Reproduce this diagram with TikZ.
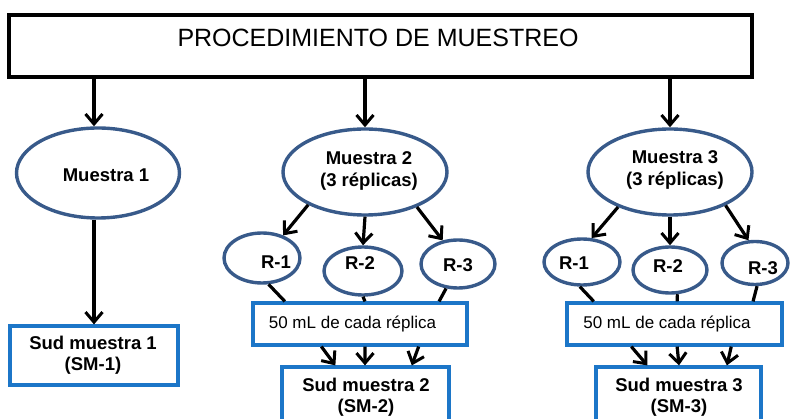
\documentclass[tikz,border=0pt]{standalone}
\usepackage{fontspec}
\setmainfont{Liberation Sans}
\usetikzlibrary{arrows.meta,calc,shapes.geometric}
\definecolor{ellblue}{HTML}{385A8A}
\definecolor{boxblue}{HTML}{1C76C8}
\begin{document}
\begin{tikzpicture}[x=1pt,y=-1pt,
  ell/.style={ellipse,draw=ellblue,line width=3.4pt,inner sep=0pt,fill=white},
  bx/.style={rectangle,draw=boxblue,line width=3.2pt,inner sep=0pt,fill=white},
  ttl/.style={rectangle,draw=black,line width=3.4pt,inner sep=0pt},
  bt/.style={font=\fontsize{18.5}{21.5}\selectfont\bfseries,align=center,inner sep=0pt},
  rt/.style={font=\fontsize{17}{20}\selectfont,inner sep=0pt},
  arr/.style={line width=3.2pt,-{Straight Barb[length=10pt,width=17pt,line width=3pt]}},
  ln/.style={line width=3.2pt}]
\useasboundingbox (0,0) rectangle (790,419);
\clip (0,0) rectangle (790,419);
% title
\node[ttl,minimum width=743pt,minimum height=62pt] (title) at (380.5,46) {};
\node[font=\fontsize{25}{28}\selectfont,inner sep=0pt] (ttext) at (378,38) {PROCEDIMIENTO DE MUESTREO};
% main ellipses
\node[ell,minimum width=163pt,minimum height=90pt] (m1) at (98,173) {};
\node[ell,minimum width=164pt,minimum height=86pt] (m2) at (365,172) {};
\node[ell,minimum width=164pt,minimum height=86pt] (m3) at (670,172) {};
\node[bt] (m1t) at (106,175) {Muestra 1};
\node[bt] (m2t) at (369,171) {Muestra 2\\(3 réplicas)};
\node[bt] (m3t) at (675,170) {Muestra 3\\(3 réplicas)};
% replicas
\node[ell,minimum width=76pt,minimum height=50pt] (r21) at (262,258) {};
\node[ell,minimum width=78pt,minimum height=48pt] (r22) at (363,271) {};
\node[ell,minimum width=74pt,minimum height=48pt] (r23) at (458,264) {};
\node[ell,minimum width=76pt,minimum height=46pt] (r31) at (582,262) {};
\node[ell,minimum width=74pt,minimum height=46pt] (r32) at (670,270) {};
\node[ell,minimum width=66pt,minimum height=43pt] (r33) at (755,263) {};
\node[bt] (r21t) at (276,262) {R-1};
\node[bt] (r22t) at (360,263) {R-2};
\node[bt] (r23t) at (458,265) {R-3};
\node[bt] (r31t) at (574,263) {R-1};
\node[bt] (r32t) at (668,266) {R-2};
\node[bt] (r33t) at (763,268) {R-3};
% boxes
\node[bx,minimum width=214pt,minimum height=42pt] (b2) at (360,324) {};
\node[bx,minimum width=215pt,minimum height=42pt] (b3) at (674.5,324) {};
\node[rt] (b2t) at (352.5,324) {50 mL de cada réplica};
\node[rt] (b3t) at (667,324) {50 mL de cada réplica};
\node[bx,minimum width=168pt,minimum height=59pt] (s1) at (94,355.5) {};
\node[bx,minimum width=167pt,minimum height=70pt] (s2) at (365.5,402) {};
\node[bx,minimum width=165pt,minimum height=70pt] (s3) at (678.5,402) {};
\node[bt] (s1t) at (93,355) {Sud muestra 1\\(SM-1)};
\node[bt] (s2t) at (366,397) {Sud muestra 2\\(SM-2)};
\node[bt] (s3t) at (679,397) {Sud muestra 3\\(SM-3)};
% title arrows
\draw[arr] (s1.north |- title.south) -- (s1.north |- m1.north);
\draw[arr] (m2.north |- title.south) -- (m2.north);
\draw[arr] (m3.north |- title.south) -- (m3.north);
\draw[arr] (s1.north |- m1.south) -- (s1.north);
% muestra 2 -> replicas
\draw[arr] (m2.210) -- (r21.47);
\draw[arr] (m2.south) -- (r22.north);
\draw[arr] (m2.-34) -- (r23.123);
% muestra 3 -> replicas
\draw[arr] (m3.214) -- (r31.68);
\draw[arr] (m3.south) -- (r32.north);
\draw[arr] (m3.-31.5) -- (r33.106);
% replicas -> boxes
\draw[ln] (r21.-76) -- ($(b2.north west)!0.154!(b2.north east)$);
\draw[ln] (r22.south) -- ($(b2.north west)!0.523!(b2.north east)$);
\draw[ln] (r23.244) -- ($(b2.north west)!0.864!(b2.north east)$);
\draw[ln] (r31.-95) -- ($(b3.north west)!0.13!(b3.north east)$);
\draw[ln] (r32.-73) -- ($(b3.north west)!0.512!(b3.north east)$);
\draw[ln] (r33.-85) -- ($(b3.north west)!0.86!(b3.north east)$);
% boxes -> sud
\draw[arr] ($(b2.south west)!0.322!(b2.south east)$) -- ($(s2.north west)!0.323!(s2.north east)$);
\draw[arr] ($(b2.south west)!0.523!(b2.south east)$) -- ($(s2.north west)!0.497!(s2.north east)$);
\draw[arr] ($(b2.south west)!0.77!(b2.south east)$) -- ($(s2.north west)!0.772!(s2.north east)$);
\draw[arr] ($(b3.south west)!0.302!(b3.south east)$) -- ($(s3.north west)!0.315!(s3.north east)$);
\draw[arr] ($(b3.south west)!0.512!(b3.south east)$) -- ($(s3.north west)!0.503!(s3.north east)$);
\draw[arr] ($(b3.south west)!0.76!(b3.south east)$) -- ($(s3.north west)!0.788!(s3.north east)$);
\end{tikzpicture}
\end{document}
